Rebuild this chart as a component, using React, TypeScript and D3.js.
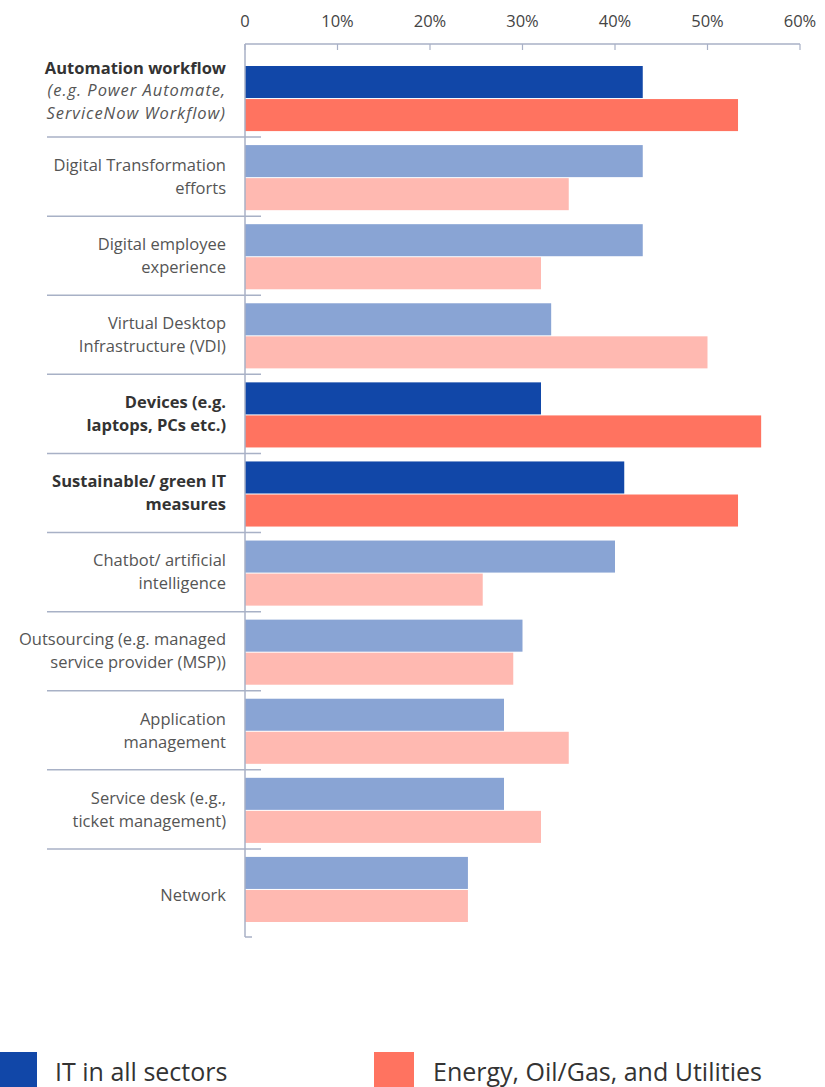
import React from "react";
import * as d3 from "d3";

const categories = [
  "Automation workflow",
  "Digital Transformation efforts",
  "Digital employee experience",
  "Virtual Desktop Infrastructure (VDI)",
  "Devices (e.g. laptops, PCs etc.)",
  "Sustainable/ green IT measures",
  "Chatbot/ artificial intelligence",
  "Outsourcing (e.g. managed service provider (MSP))",
  "Application management",
  "Service desk (e.g., ticket management)",
  "Network",
];

type Line = { text: string; kind: "bold" | "italic" | "normal" };
const labelLines: Line[][] = [
  [
    { text: "Automation workflow", kind: "bold" },
    { text: "(e.g. Power Automate,", kind: "italic" },
    { text: "ServiceNow Workflow)", kind: "italic" },
  ],
  [
    { text: "Digital Transformation", kind: "normal" },
    { text: "efforts", kind: "normal" },
  ],
  [
    { text: "Digital employee", kind: "normal" },
    { text: "experience", kind: "normal" },
  ],
  [
    { text: "Virtual Desktop", kind: "normal" },
    { text: "Infrastructure (VDI)", kind: "normal" },
  ],
  [
    { text: "Devices (e.g.", kind: "bold" },
    { text: "laptops, PCs etc.)", kind: "bold" },
  ],
  [
    { text: "Sustainable/ green IT", kind: "bold" },
    { text: "measures", kind: "bold" },
  ],
  [
    { text: "Chatbot/ artificial", kind: "normal" },
    { text: "intelligence", kind: "normal" },
  ],
  [
    { text: "Outsourcing (e.g. managed", kind: "normal" },
    { text: "service provider (MSP))", kind: "normal" },
  ],
  [
    { text: "Application", kind: "normal" },
    { text: "management", kind: "normal" },
  ],
  [
    { text: "Service desk (e.g.,", kind: "normal" },
    { text: "ticket management)", kind: "normal" },
  ],
  [{ text: "Network", kind: "normal" }],
];

const highlighted = [true, false, false, false, true, true, false, false, false, false, false];

const seriesNames = ["IT in all sectors", "Energy, Oil/Gas, and Utilities"];
const itAllSectors = [43, 43, 43, 33.1, 32, 41, 40, 30, 28, 28, 24.1];
const energyOilGas = [53.3, 35, 32, 50, 55.8, 53.3, 25.7, 29, 35, 32, 24.1];

const tickValues = [0, 10, 20, 30, 40, 50, 60];
const tickLabels = ["0", "10%", "20%", "30%", "40%", "50%", "60%"];

const colors = {
  darkBlue: "#1147A8",
  lightBlue: "#89A4D4",
  darkRed: "#FF7360",
  lightRed: "#FFB9B1",
  axis: "#A8B1C6",
};

const FONT = "'Open Sans', 'Noto Sans', sans-serif";

export default function App() {
  const W = 825;
  const H = 1087;
  const axisTop = 44;
  const axisBottom = 937;

  const x = d3.scaleLinear().domain([0, 60]).range([245, 800]);
  const y = d3
    .scaleBand<string>()
    .domain(categories)
    .range([66, 922])
    .paddingInner(14 / 79.1)
    .paddingOuter(0);
  const ySub = d3
    .scaleBand<string>()
    .domain(["a", "b"])
    .range([0, y.bandwidth()])
    .paddingInner(1 / 32.5);

  const seps = categories.slice(0, -1).map((c) => (y(c) as number) + y.bandwidth() + 6);
  const bounds = [axisTop, ...seps, axisBottom];

  return (
    <svg
      width={W}
      height={H}
      style={{ position: "absolute", left: 0, top: 0, display: "block" }}
      fontFamily={FONT}
    >
      <rect x={0} y={0} width={W} height={H} fill="#fff" />
      {tickValues.map((t, i) => (
        <text
          key={"tl" + i}
          x={x(t)}
          y={21}
          dy="0.35em"
          textAnchor="middle"
          fontSize={16.5}
          fill="#444"
        >
          {tickLabels[i]}
        </text>
      ))}
      {categories.map((c, i) => {
        const y0 = y(c) as number;
        const hl = highlighted[i];
        return (
          <g key={"bars" + i}>
            <rect
              x={x(0)}
              y={y0 + (ySub("a") as number)}
              width={x(itAllSectors[i]) - x(0)}
              height={ySub.bandwidth()}
              fill={hl ? colors.darkBlue : colors.lightBlue}
            />
            <rect
              x={x(0)}
              y={y0 + (ySub("b") as number)}
              width={x(energyOilGas[i]) - x(0)}
              height={ySub.bandwidth()}
              fill={hl ? colors.darkRed : colors.lightRed}
            />
          </g>
        );
      })}
      <line x1={x(0)} x2={x(60)} y1={axisTop} y2={axisTop} stroke={colors.axis} strokeWidth={1.5} />
      {tickValues.map((t, i) => (
        <line
          key={"tk" + i}
          x1={x(t)}
          x2={x(t)}
          y1={axisTop}
          y2={axisTop + 6}
          stroke={colors.axis}
          strokeWidth={1.2}
        />
      ))}
      <line x1={x(0)} x2={x(0)} y1={axisTop} y2={axisBottom} stroke={colors.axis} strokeWidth={1.5} />
      <line x1={x(0)} x2={x(0) + 7} y1={axisBottom} y2={axisBottom} stroke={colors.axis} strokeWidth={1.5} />
      {seps.map((s, i) => (
        <line key={"sp" + i} x1={47} x2={261} y1={s} y2={s} stroke={colors.axis} strokeWidth={1.5} />
      ))}
      {labelLines.map((lines, i) => {
        const cy = (bounds[i] + bounds[i + 1]) / 2 + (lines.length === 1 ? 2 : 0);
        const lh = lines.length > 2 ? 22.3 : 23;
        return (
          <g key={"lab" + i}>
            {lines.map((ln, j) => (
              <text
                key={j}
                x={226}
                y={cy + (j - (lines.length - 1) / 2) * lh}
                dy="0.35em"
                textAnchor="end"
                fontSize={16.5}
                fontWeight={ln.kind === "bold" ? 700 : 400}
                fontStyle={ln.kind === "italic" ? "italic" : "normal"}
                letterSpacing={ln.kind === "italic" ? 0.95 : 0}
                fill={ln.kind === "bold" ? "#333" : "#555"}
              >
                {ln.text}
              </text>
            ))}
          </g>
        );
      })}
      <rect x={0} y={1052} width={37} height={36} fill={colors.darkBlue} />
      <text x={55} y={1072} dy="0.35em" fontSize={25} fill="#333">
        {seriesNames[0]}
      </text>
      <rect x={374} y={1052} width={40} height={36} fill={colors.darkRed} />
      <text x={433} y={1072} dy="0.35em" fontSize={25} fill="#333">
        {seriesNames[1]}
      </text>
    </svg>
  );
}
